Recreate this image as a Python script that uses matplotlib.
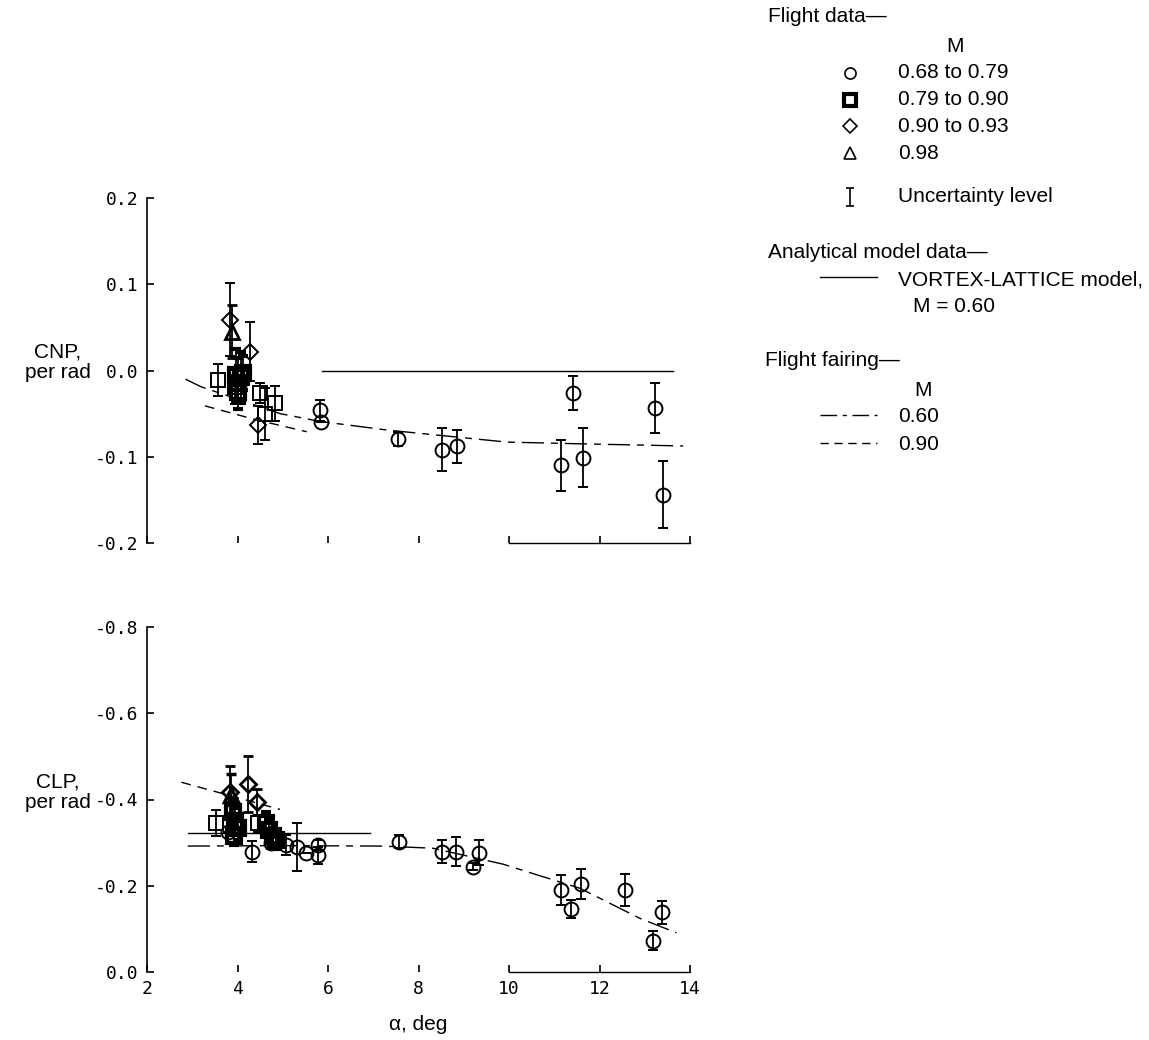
import matplotlib
matplotlib.use('Agg')
import matplotlib.pyplot as plt
from matplotlib.lines import Line2D

# CNP panel: flight data (alpha deg, value, half-width of uncertainty bar)
cnp_circ_a = [5.82, 5.85, 7.55, 8.51, 8.84, 11.16, 11.42, 11.64, 13.23, 13.41]
cnp_circ = [-0.046, -0.060, -0.079, -0.092, -0.088, -0.110, -0.026, -0.101, -0.044, -0.144]
cnp_circ_err = [0.012, 0.0, 0.008, 0.025, 0.019, 0.030, 0.020, 0.034, 0.029, 0.039]

cnp_sq_a = [3.58, 3.94, 4.50, 4.61, 4.83]
cnp_sq = [-0.011, -0.019, -0.026, -0.050, -0.038]
cnp_sq_err = [0.019, 0.020, 0.012, 0.030, 0.020]

cnp_sqb_a = [3.97, 4.00, 4.02, 4.07, 4.12]
cnp_sqb = [-0.005, -0.015, -0.025, -0.008, -0.003]
cnp_sqb_err = [0.030, 0.030, 0.012, 0.030, 0.020]

cnp_dia_a = [3.83, 4.28, 4.46]
cnp_dia = [0.059, 0.022, -0.063]
cnp_dia_err = [0.042, 0.034, 0.022]

cnp_tri_a = [3.87]
cnp_tri = [0.045]
cnp_tri_err = [0.031]

cnp_vl_a = [5.86, 13.62]
cnp_vl = [0.0, 0.0]
cnp_f60_a = [2.85, 3.2, 4.05, 4.94, 5.82, 7.3, 9.95, 11.57, 13.85]
cnp_f60 = [-0.010, -0.019, -0.034, -0.050, -0.059, -0.069, -0.083, -0.085, -0.0875]
cnp_f90_a = [3.28, 4.4, 5.53]
cnp_f90 = [-0.041, -0.057, -0.071]

# CLP panel
clp_circ_a = [3.80, 4.31, 4.75, 5.07, 5.32, 5.52, 5.79, 5.79, 7.56, 8.51, 8.83, 9.21,
              9.34, 11.16, 11.38, 11.60, 12.56, 13.19, 13.39]
clp_circ = [-0.325, -0.279, -0.298, -0.294, -0.290, -0.275, -0.294, -0.271, -0.302, -0.279,
            -0.279, -0.244, -0.277, -0.190, -0.146, -0.204, -0.190, -0.073, -0.138]
clp_circ_err = [0.0, 0.024, 0.012, 0.023, 0.056, 0.0, 0.012, 0.020, 0.015, 0.027,
                0.033, 0.008, 0.029, 0.035, 0.020, 0.034, 0.037, 0.023, 0.027]

clp_sq_a = [3.53, 4.46]
clp_sq = [-0.345, -0.345]
clp_sq_err = [0.030, 0.020]

clp_sqb_a = [3.90, 3.95, 4.00, 3.92, 4.62, 4.70, 4.78, 4.85]
clp_sqb = [-0.370, -0.350, -0.335, -0.315, -0.345, -0.330, -0.315, -0.305]
clp_sqb_err = [0.030, 0.030, 0.030, 0.020, 0.025, 0.025, 0.020, 0.020]

clp_dia_a = [3.83, 4.24, 4.42]
clp_dia = [-0.418, -0.437, -0.395]
clp_dia_err = [0.060, 0.065, 0.030]

clp_tri_a = [3.86]
clp_tri = [-0.410]
clp_tri_err = [0.050]

clp_vl_a = [2.9, 6.93]
clp_vl = [-0.322, -0.322]
clp_f60_a = [2.9, 5.0, 7.2, 8.32, 9.87, 11.57, 12.9, 13.7]
clp_f60 = [-0.292, -0.293, -0.292, -0.287, -0.250, -0.194, -0.124, -0.091]
clp_f90_a = [2.76, 4.94]
clp_f90 = [-0.440, -0.377]

x_ticks = [2, 4, 6, 8, 10, 12, 14]
cnp_ticks = [-0.2, -0.1, 0.0, 0.1, 0.2]
cnp_labels = ['-0.2', '-0.1', '0.0', '0.1', '0.2']
clp_ticks = [0.0, -0.2, -0.4, -0.6, -0.8]
clp_labels = ['0.0', '-0.2', '-0.4', '-0.6', '-0.8']

TXT = ['Liberation Sans', 'DejaVu Sans']
MONO = ['DejaVu Sans Mono']
DASH60 = (0, (16, 5, 5, 5))
DASH90 = (0, (7, 5))

W, H = 1149, 1040
fig = plt.figure(figsize=(W / 100, H / 100), dpi=100)


def err_series(ax, a, v, e, marker, mew=1.4, ms=10):
    ax.errorbar(a, v, yerr=e, fmt=marker, ms=ms, mfc='none', mec='black', mew=mew,
                ecolor='black', elinewidth=1.3, capsize=3.5, capthick=1.3, clip_on=False)


def style_axis(ax):
    for s in ['top', 'right']:
        ax.spines[s].set_visible(False)
    ax.spines['bottom'].set_bounds(10, 14)
    ax.spines['left'].set_linewidth(1.2)
    ax.spines['bottom'].set_linewidth(1.0)
    ax.set_xlim(2, 14)
    ax.set_xticks(x_ticks)
    ax.tick_params(direction='in', length=5, width=1.2, pad=6)


ax1 = fig.add_axes([147 / W, 1 - 543 / H, 543 / W, 345 / H])
style_axis(ax1)
ax1.set_ylim(-0.2, 0.2)
ax1.set_yticks(cnp_ticks)
ax1.set_yticklabels(cnp_labels, family=MONO, fontsize=13)
ax1.tick_params(labelbottom=False)
ax1.plot(cnp_vl_a, cnp_vl, color='black', lw=1.0)
ax1.plot(cnp_f60_a, cnp_f60, color='black', lw=1.0, ls=DASH60)
ax1.plot(cnp_f90_a, cnp_f90, color='black', lw=1.0, ls=DASH90)
err_series(ax1, cnp_circ_a, cnp_circ, cnp_circ_err, 'o')
err_series(ax1, cnp_sq_a, cnp_sq, cnp_sq_err, 's')
err_series(ax1, cnp_sqb_a, cnp_sqb, cnp_sqb_err, 's', mew=3.0)
err_series(ax1, cnp_dia_a, cnp_dia, cnp_dia_err, 'D', ms=8)
err_series(ax1, cnp_tri_a, cnp_tri, cnp_tri_err, '^', mew=2.0)

ax2 = fig.add_axes([147 / W, 1 - 972 / H, 543 / W, 345 / H])
style_axis(ax2)
ax2.set_ylim(0.0, -0.8)
ax2.set_yticks(clp_ticks)
ax2.set_yticklabels(clp_labels, family=MONO, fontsize=13)
ax2.set_xticklabels([str(t) for t in x_ticks], family=MONO, fontsize=13)
ax2.plot(clp_vl_a, clp_vl, color='black', lw=1.0)
ax2.plot(clp_f60_a, clp_f60, color='black', lw=1.0, ls=DASH60)
ax2.plot(clp_f90_a, clp_f90, color='black', lw=1.0, ls=DASH90)
err_series(ax2, clp_circ_a, clp_circ, clp_circ_err, 'o')
err_series(ax2, clp_sq_a, clp_sq, clp_sq_err, 's')
err_series(ax2, clp_sqb_a, clp_sqb, clp_sqb_err, 's', mew=3.0)
err_series(ax2, clp_dia_a, clp_dia, clp_dia_err, 'D', ms=8, mew=2.0)
err_series(ax2, clp_tri_a, clp_tri, clp_tri_err, '^', mew=2.5)
ax2.set_xlabel('\u03b1, deg', family=TXT, fontsize=15, labelpad=12)

fig.text(58 / W, 1 - 362 / H, 'CNP,\nper rad', family=TXT, fontsize=15,
         ha='center', va='center', linespacing=1.1)
fig.text(58 / W, 1 - 792 / H, 'CLP,\nper rad', family=TXT, fontsize=15,
         ha='center', va='center', linespacing=1.1)

# legend block, drawn in its own pixel-scaled axes
lax = fig.add_axes([760 / W, 1 - 480 / H, 389 / W, 480 / H])
lax.set_xlim(0, 389)
lax.set_ylim(480, 0)
lax.axis('off')
fs = 15


def ltext(x, y, s, ha='left'):
    lax.text(x, y, s, family=TXT, fontsize=fs, ha=ha, va='center')


ltext(8, 17, 'Flight data\u2014')
ltext(195, 47, 'M', ha='center')
entries = [('o', '0.68 to 0.79', 1.2), ('s', '0.79 to 0.90', 3.0),
           ('D', '0.90 to 0.93', 1.2), ('^', '0.98', 1.2)]
for i, (m, lab, mw) in enumerate(entries):
    y = 73 + 26.7 * i
    lax.plot([90], [y], marker=m, ms=8 if m != 'D' else 7, mfc='none', mec='black', mew=mw)
    ltext(138, y, lab)
lax.errorbar([90], [197], yerr=[9], fmt='none', ecolor='black', elinewidth=1.2,
             capsize=3, capthick=1.2)
ltext(138, 197, 'Uncertainty level')
ltext(8, 253, 'Analytical model data\u2014')
lax.add_line(Line2D([60, 117], [277, 277], color='black', lw=1.0))
ltext(138, 280, 'VORTEX-LATTICE model,')
ltext(153, 307, 'M = 0.60')
ltext(5, 360, 'Flight fairing\u2014')
ltext(163, 390, 'M', ha='center')
lax.add_line(Line2D([60, 117], [415, 415], color='black', lw=1.0, ls=(0, (12, 4, 3, 4))))
ltext(138, 417, '0.60')
lax.add_line(Line2D([60, 117], [443, 443], color='black', lw=1.0, ls=(0, (6, 4))))
ltext(138, 445, '0.90')

fig.savefig('out.png', dpi=100)
